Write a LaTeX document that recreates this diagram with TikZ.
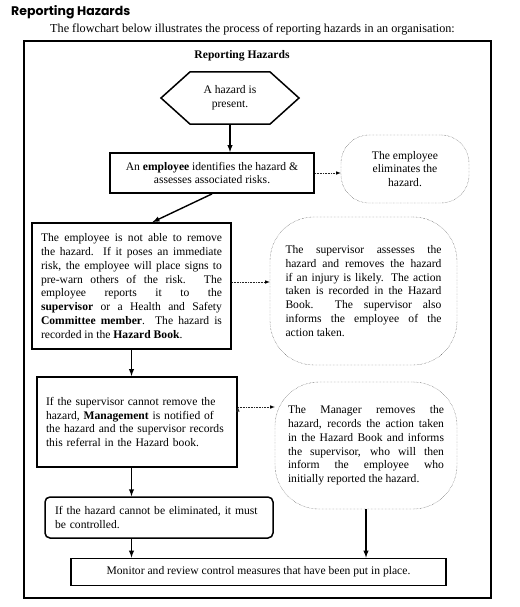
\documentclass[tikz,border=0pt]{standalone}
\usepackage{fontspec}
\setmainfont{Liberation Serif}
\newfontfamily\headfont{Poppins}
\usepackage{tikz}
\usetikzlibrary{arrows}
\usetikzlibrary{shapes.symbols}

\begin{document}
\begin{tikzpicture}[x=1pt,y=-1pt,>=latex,
			every node/.style={font=\fontsize{11.6}{13.8}\selectfont,inner sep=0pt},
			step box/.style={rectangle,draw,line width=1.8pt},
			side box/.style={rectangle,draw=black!80,densely dotted,thin},
			hex node/.style={signal,signal to=west and east,signal pointer angle=84,
				draw,line width=1.5pt,minimum width=138pt,minimum height=52pt,align=center}]
			
			\useasboundingbox (0,0) rectangle (519,607);
			
			\node[anchor=west,font=\headfont\bfseries\fontsize{12.5}{15}\selectfont] (T) at (11,12) {Reporting Hazards};
			\node[anchor=west,font=\fontsize{12.2}{14}\selectfont] (S) at (50,30) {The flowchart below illustrates the process of reporting hazards in an organisation:};
			\draw[line width=2.5pt] (24,41) rectangle (491,598);
			\node[font=\bfseries\fontsize{11.6}{14}\selectfont] (F) at (242,56) {Reporting Hazards};
			
			\node[hex node] (H) at (230,98) {A hazard is\\present.};
			\node[step box,minimum width=204pt,minimum height=40pt,align=center] (B2) at (212,173)
			{An \textbf{employee} identifies the hazard \&\\assesses associated risks.};
			\node[side box,minimum width=128pt,minimum height=68pt,rounded corners=28pt,align=center] (E1) at (405,169)
			{The employee\\eliminates the\\hazard.};
			\node[step box,minimum width=199pt,minimum height=126pt,text width=181pt,align=justify] (B3) at (131.5,286)
			{The employee is not able to remove\linebreak
				the hazard.\ \ If it poses an immediate\linebreak
				risk, the employee will place signs to\linebreak
				pre-warn others of the risk. The\linebreak
				employee reports it to the\linebreak
				\textbf{supervisor} or a Health and Safety\linebreak
				\textbf{Committee member}.\ \ The hazard is\linebreak
				recorded in the \textbf{Hazard Book}.};
			\node[side box,minimum width=187pt,minimum height=148pt,rounded corners=44pt,text width=156pt,align=justify] (B4) at (363.5,291)
			{The supervisor assesses the\linebreak
				hazard and removes the hazard\linebreak
				if an injury is likely. The action\linebreak
				taken is recorded in the Hazard\linebreak
				Book.\ \ The supervisor also\linebreak
				informs the employee of the\linebreak
				action taken.};
			\node[step box,minimum width=200pt,minimum height=90pt,text width=182pt,align=left] (B5) at (137,422)
			{If the supervisor cannot remove the\\
				hazard, \textbf{Management} is notified of\\
				the hazard and the supervisor records\\
				this referral in the Hazard book.};
			\node[side box,minimum width=182pt,minimum height=127pt,rounded corners=44pt,text width=156pt,align=justify] (B6) at (366,445.5)
			{The Manager removes the\linebreak
				hazard, records the action taken\linebreak
				in the Hazard Book and informs\linebreak
				the supervisor, who will then\linebreak
				inform the employee who\linebreak
				initially reported the hazard.};
			\node[step box,line width=1.5pt,rounded corners=5pt,minimum width=228pt,minimum height=41pt,text width=208pt,align=left] (B7) at (159,517.5)
			{If the hazard cannot be eliminated, it must\\be controlled.};
			\node[step box,minimum width=375pt,minimum height=27pt] (B8) at (258.5,572)
			{Monitor and review control measures that have been put in place.};
			
			% solid flow
			\path[->,line width=1.4pt]
			(H.south) edge (H.south |- B2.north)
			(B2.south) edge ([xshift=21pt]B3.north)
			(B3.south) edge (B3.south |- B5.north)
			(B3.south |- B5.south) edge (B3.south |- B7.north)
			(B3.south |- B7.south) edge (B3.south |- B8.north)
			(B6.south) edge (B6.south |- B8.north);
			
			% dotted side arrows
			\path[->,densely dotted,semithick,draw=black!85]
			(B2.east) edge (B2.east -| E1.west)
			([yshift=4pt]B3.east) edge ([yshift=4pt]B3.east -| B4.west)
			([yshift=15pt]B5.east) edge ([yshift=15pt]B5.east -| B6.west);
		\end{tikzpicture}
\end{document}
